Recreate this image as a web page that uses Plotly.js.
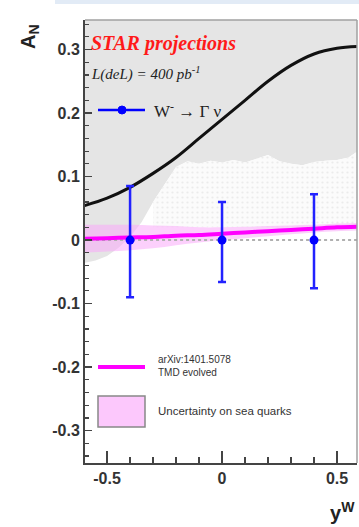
<!DOCTYPE html>
<html>
<head>
<meta charset="utf-8">
<script src="https://cdn.plot.ly/plotly-3.0.1.min.js"></script>
<style>
  html, body { margin: 0; padding: 0; background: #ffffff; }
  #chart { width: 359px; height: 527px; }
</style>
</head>
<body>
<div id="chart"></div>
<script>
// Projected W- single-spin asymmetry vs W rapidity
const pointRapidity = [-0.4, 0.0, 0.4];
const pointAN = [0.0, 0.0, 0.0];
const pointErrUp = [0.085, 0.06, 0.072];
const pointErrDown = [0.09, 0.066, 0.076];

// Model curves on a common rapidity grid
const curveRapidity = [-0.6, -0.5, -0.4, -0.3, -0.2, -0.1, 0.0, 0.1, 0.2, 0.3, 0.4, 0.5, 0.6];
const kqCurve = [0.054, 0.066, 0.083, 0.105, 0.13, 0.16, 0.19, 0.22, 0.25, 0.275, 0.293, 0.302, 0.305];
const tmdCurve = [0.002, 0.003, 0.004, 0.005, 0.007, 0.008, 0.010, 0.012, 0.014, 0.016, 0.018, 0.020, 0.021];
const tmdSeaHalfWidth = [0.022, 0.021, 0.02, 0.018, 0.015, 0.012, 0.01, 0.009, 0.008, 0.007, 0.006, 0.006, 0.006];

// Lower edge of the grey excluded region
const greyRapidity = [-0.6, -0.55, -0.5, -0.45, -0.4, -0.35, -0.3, -0.25, -0.2, -0.15, -0.1, -0.05, 0.0,
                      0.05, 0.1, 0.15, 0.2, 0.25, 0.3, 0.35, 0.4, 0.45, 0.5, 0.55, 0.6];
const greyLower = [-0.036, -0.032, -0.025, -0.012, 0.005, 0.028, 0.06, 0.088, 0.115, 0.124, 0.12, 0.125, 0.122,
                   0.126, 0.122, 0.128, 0.134, 0.124, 0.12, 0.118, 0.123, 0.125, 0.126, 0.13, 0.142];
const greyTop = 0.4;
const hatchLower = 0.02;
const zeroLevel = 0;

const xTicks = [-0.5, 0, 0.5];
const xTickText = ['-0.5', '0', '0.5'];
const yTicks = [-0.3, -0.2, -0.1, 0, 0.1, 0.2, 0.3];
const yTickText = ['-0.3', '-0.2', '-0.1', '0', '0.1', '0.2', '0.3'];

const tmdUpper = tmdCurve.map((v, i) => v + tmdSeaHalfWidth[i]);
const tmdLower = tmdCurve.map((v, i) => v - tmdSeaHalfWidth[i]);
const hatchIdx = greyRapidity.map((x, i) => i).filter(i => greyRapidity[i] >= -0.3);

const traces = [
  // grey region: from lower edge up past the frame
  { x: greyRapidity, y: greyLower, mode: 'lines', line: { width: 0 }, hoverinfo: 'skip', showlegend: false },
  { x: greyRapidity, y: greyRapidity.map(() => greyTop), mode: 'lines', line: { width: 0 },
    fill: 'tonexty', fillcolor: '#e5e5e5', hoverinfo: 'skip', showlegend: false },
  // faint dotted region beneath it
  { x: hatchIdx.map(i => greyRapidity[i]), y: hatchIdx.map(() => hatchLower), mode: 'lines',
    line: { width: 0 }, hoverinfo: 'skip', showlegend: false },
  { x: hatchIdx.map(i => greyRapidity[i]), y: hatchIdx.map(i => greyLower[i]), mode: 'lines',
    line: { width: 0 }, fill: 'tonexty', fillcolor: '#fbfbfb',
    fillpattern: { shape: '.', fgcolor: '#ebebeb', bgcolor: '#fbfbfb', size: 5, solidity: 0.15 },
    hoverinfo: 'skip', showlegend: false },
  // sea-quark uncertainty band
  { x: curveRapidity, y: tmdLower, mode: 'lines', line: { width: 0, shape: 'spline' }, hoverinfo: 'skip', showlegend: false },
  { x: curveRapidity, y: tmdUpper, mode: 'lines', line: { width: 0, shape: 'spline' },
    fill: 'tonexty', fillcolor: 'rgba(250,170,250,0.55)', hoverinfo: 'skip', showlegend: false },
  // dashed zero line
  { x: [curveRapidity[0], curveRapidity[curveRapidity.length - 1]], y: [zeroLevel, zeroLevel], mode: 'lines',
    line: { color: '#b0b0b0', width: 2, dash: 'dot' }, hoverinfo: 'skip', showlegend: false },
  // TMD evolved prediction
  { x: curveRapidity, y: tmdCurve, mode: 'lines', line: { color: '#ff00ff', width: 4, shape: 'spline' }, showlegend: false },
  // upper curve
  { x: curveRapidity, y: kqCurve, mode: 'lines', line: { color: '#111111', width: 3, shape: 'spline' }, showlegend: false },
  // projected data points
  { x: pointRapidity, y: pointAN, mode: 'markers',
    marker: { color: '#0000ff', size: 9 },
    error_y: { type: 'data', symmetric: false, array: pointErrUp, arrayminus: pointErrDown,
               color: '#2222ff', thickness: 2.5, width: 4 },
    showlegend: false }
];

const px = x => (x - 85) / 272;
const py = y => (463 - y) / 443;

const layout = {
  width: 359, height: 527,
  margin: { l: 85, r: 2, t: 20, b: 64 },
  paper_bgcolor: '#ffffff', plot_bgcolor: '#ffffff',
  showlegend: false,
  font: { family: 'Liberation Sans, Arial, sans-serif' },
  xaxis: {
    range: [-0.596, 0.587], tickvals: xTicks, ticktext: xTickText,
    ticks: 'inside', ticklen: 12, tickwidth: 1.5, tickcolor: '#444',
    minor: { dtick: 0.1, tick0: 0, ticks: 'inside', ticklen: 6, tickwidth: 1.5, tickcolor: '#444' },
    showline: true, linecolor: '#444', linewidth: 2, showgrid: false, zeroline: false,
    tickfont: { size: 16, color: '#333', family: 'Liberation Sans, Arial, sans-serif', weight: 'bold' }
  },
  yaxis: {
    range: [-0.351, 0.3465], tickvals: yTicks, ticktext: yTickText,
    ticks: 'inside', ticklen: 7, tickwidth: 1.5, tickcolor: '#444',
    minor: { dtick: 0.02, tick0: 0, ticks: 'inside', ticklen: 4, tickwidth: 1.2, tickcolor: '#444' },
    showline: true, linecolor: '#444', linewidth: 2, showgrid: false, zeroline: false,
    tickfont: { size: 16, color: '#333', family: 'Liberation Sans, Arial, sans-serif', weight: 'bold' }
  },
  shapes: [
    // top and right frame
    { type: 'line', xref: 'paper', yref: 'paper', x0: 0, x1: 1, y0: 1, y1: 1, line: { color: '#a0a0a0', width: 1.5 } },
    { type: 'line', xref: 'paper', yref: 'paper', x0: 1, x1: 1, y0: 0, y1: 1, line: { color: '#a0a0a0', width: 1.5 } },
    // slide strip along the top
    { type: 'rect', xref: 'paper', yref: 'paper', x0: px(55), x1: 1.02, y0: py(4), y1: py(0),
      fillcolor: '#e2ebf6', line: { width: 0 } },
    // legend samples
    { type: 'line', xref: 'paper', yref: 'paper', x0: px(98), x1: px(145), y0: py(110), y1: py(110),
      line: { color: '#0000ff', width: 2.5 } },
    { type: 'circle', xref: 'paper', yref: 'paper', x0: px(118), x1: px(126), y0: py(114), y1: py(106),
      fillcolor: '#0000ff', line: { color: '#0000ff', width: 1 } },
    { type: 'line', xref: 'paper', yref: 'paper', x0: px(98), x1: px(145), y0: py(367), y1: py(367),
      line: { color: '#ff00ff', width: 4 } },
    { type: 'rect', xref: 'paper', yref: 'paper', x0: px(98), x1: px(145), y0: py(427), y1: py(396),
      fillcolor: '#fcc8fc', line: { color: '#888888', width: 1.5 } }
  ],
  annotations: [
    { xref: 'paper', yref: 'paper', x: px(89), y: py(43), xanchor: 'left', yanchor: 'middle', showarrow: false,
      text: '<b><i>STAR projections</i></b>',
      font: { family: 'Liberation Serif, Times New Roman, serif', size: 20, color: '#ff1a1a' } },
    { xref: 'paper', yref: 'paper', x: px(89), y: py(73), xanchor: 'left', yanchor: 'middle', showarrow: false,
      text: '<i>L(deL) = 400 pb<sup>-1</sup></i>',
      font: { family: 'Liberation Serif, Times New Roman, serif', size: 15, color: '#222' } },
    { xref: 'paper', yref: 'paper', x: px(152), y: py(110), xanchor: 'left', yanchor: 'middle', showarrow: false,
      text: 'W<sup>-</sup> → Γ ν',
      font: { family: 'Liberation Serif, Times New Roman, serif', size: 17, color: '#222' } },
    { xref: 'paper', yref: 'paper', x: px(156), y: py(366), xanchor: 'left', yanchor: 'middle', showarrow: false,
      align: 'left', text: 'arXiv:1401.5078<br>TMD evolved',
      font: { family: 'Liberation Sans, Arial, sans-serif', size: 10, color: '#333' } },
    { xref: 'paper', yref: 'paper', x: px(156), y: py(411), xanchor: 'left', yanchor: 'middle', showarrow: false,
      text: 'Uncertainty on sea quarks',
      font: { family: 'Liberation Sans, Arial, sans-serif', size: 11.5, color: '#333' } },
    // axis titles
    { xref: 'paper', yref: 'paper', x: px(30), y: py(37), xanchor: 'center', yanchor: 'middle', showarrow: false,
      textangle: -90, text: '<b>A<sub>N</sub></b>',
      font: { family: 'Liberation Sans, Arial, sans-serif', size: 20, color: '#222' } },
    { xref: 'paper', yref: 'paper', x: px(342), y: py(512), xanchor: 'center', yanchor: 'middle', showarrow: false,
      text: '<b>y<sup>W</sup></b>',
      font: { family: 'Liberation Sans, Arial, sans-serif', size: 20, color: '#222' } }
  ]
};

Plotly.newPlot('chart', traces, layout, { displayModeBar: false, staticPlot: true });
</script>
</body>
</html>
